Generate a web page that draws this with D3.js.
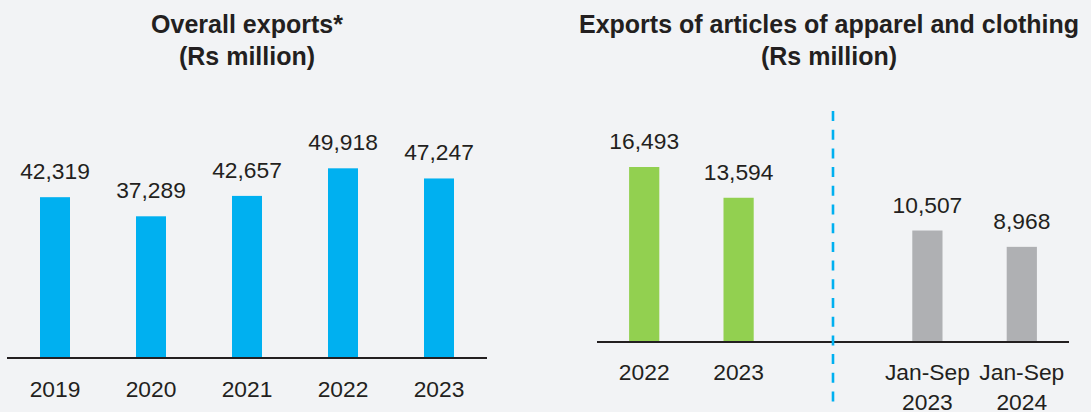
<!DOCTYPE html>
<html>
<head>
<meta charset="utf-8">
<script src="https://cdn.jsdelivr.net/npm/d3@7"></script>
<style>
  html, body { margin: 0; padding: 0; background: #F2F3F5; }
  svg { display: block; }
</style>
</head>
<body>
<svg id="chart" width="1091" height="412"></svg>
<script>
// Overall exports, Rs million
const overallYears = ["2019", "2020", "2021", "2022", "2023"];
const overallValues = [42319, 37289, 42657, 49918, 47247];

// Exports of articles of apparel and clothing, Rs million
const apparelCategories = ["2022", "2023", "gap", "Jan-Sep 2023", "Jan-Sep 2024"];
const apparelLabels = [["2022"], ["2023"], [], ["Jan-Sep", "2023"], ["Jan-Sep", "2024"]];
const apparelValues = [16493, 13594, null, 10507, 8968];
const apparelColors = ["#92D050", "#92D050", null, "#AFB0B3", "#AFB0B3"];

const titleFont = "'Liberation Sans', Arial, sans-serif";
const bodyFont = "'Liberation Sans', Arial, sans-serif";
const labelSize = 22.8;
const fmt = d3.format(",");

const svg = d3.select("#chart");

function drawTitle(lines, cx) {
  const t = svg.append("text")
    .attr("text-anchor", "middle")
    .attr("font-family", titleFont)
    .attr("font-weight", "bold")
    .attr("font-size", 25)
    .attr("fill", "#231F20");
  lines.forEach((line, i) => {
    t.append("tspan").attr("x", cx).attr("y", 33 + i * 32).text(line);
  });
}

// ---------- Left panel ----------
const leftX = d3.scaleBand().domain(overallYears).range([7, 487]).paddingInner(0.6875).paddingOuter(0.34375);
const leftY = d3.scaleLinear().domain([0, 50000]).range([358, 168]);

drawTitle(["Overall exports*", "(Rs million)"], 247);

const leftG = svg.append("g");
leftG.selectAll("rect").data(overallValues).join("rect")
  .attr("x", (d, i) => leftX(overallYears[i]))
  .attr("width", leftX.bandwidth())
  .attr("y", d => leftY(d))
  .attr("height", d => leftY(0) - leftY(d))
  .attr("fill", "#00B0F0");

leftG.selectAll("text.val").data(overallValues).join("text")
  .attr("class", "val")
  .attr("x", (d, i) => leftX(overallYears[i]) + leftX.bandwidth() / 2)
  .attr("y", d => leftY(d) - 18)
  .attr("text-anchor", "middle")
  .attr("font-family", bodyFont)
  .attr("font-size", labelSize)
  .attr("fill", "#231F20")
  .text(d => fmt(d));

const leftAxis = d3.axisBottom(leftX).tickSize(0).tickPadding(0);
const la = svg.append("g").attr("transform", `translate(0,${leftY(0)})`).call(leftAxis);
la.select(".domain").attr("stroke", "#231F20").attr("stroke-width", 1.8).attr("d", "M7,0H487");
la.selectAll(".tick text")
  .attr("y", 39).attr("dy", 0)
  .attr("font-family", bodyFont).attr("font-size", labelSize).attr("fill", "#231F20");

// ---------- Right panel ----------
const rightX = d3.scaleBand().domain(apparelCategories).range([597, 1069]).paddingInner(0.68).paddingOuter(0.34);
const rightY = d3.scaleLinear().domain([0, 16493]).range([342, 167]);

drawTitle(["Exports of articles of apparel and clothing", "(Rs million)"], 829);

const barData = apparelValues.map((v, i) => ({ cat: apparelCategories[i], v, c: apparelColors[i] }))
  .filter(d => d.v !== null);

const rightG = svg.append("g");
rightG.selectAll("rect").data(barData).join("rect")
  .attr("x", d => rightX(d.cat))
  .attr("width", rightX.bandwidth())
  .attr("y", d => rightY(d.v))
  .attr("height", d => rightY(0) - rightY(d.v))
  .attr("fill", d => d.c);

rightG.selectAll("text.val").data(barData).join("text")
  .attr("class", "val")
  .attr("x", d => rightX(d.cat) + rightX.bandwidth() / 2)
  .attr("y", d => rightY(d.v) - 18)
  .attr("text-anchor", "middle")
  .attr("font-family", bodyFont)
  .attr("font-size", labelSize)
  .attr("fill", "#231F20")
  .text(d => fmt(d.v));

const rightAxis = d3.axisBottom(rightX).tickSize(0).tickPadding(0).tickFormat(() => "");
const ra = svg.append("g").attr("transform", `translate(0,${rightY(0)})`).call(rightAxis);
ra.select(".domain").attr("stroke", "#231F20").attr("stroke-width", 1.8).attr("d", "M597,0H1069");
ra.selectAll(".tick text").each(function (d, i) {
  const t = d3.select(this)
    .attr("y", 0).attr("dy", 0)
    .attr("font-family", bodyFont).attr("font-size", labelSize).attr("fill", "#231F20");
  apparelLabels[i].forEach((line, j) => {
    t.append("tspan").attr("x", 0).attr("y", 38 + j * 29.5).text(line);
  });
});

// Dashed separator between full-year and Jan-Sep bars
const sepX = rightX("gap") + rightX.bandwidth() / 2;
svg.append("line")
  .attr("x1", sepX).attr("x2", sepX)
  .attr("y1", 111).attr("y2", 402)
  .attr("stroke", "#00B0F0")
  .attr("stroke-width", 2.6)
  .attr("stroke-dasharray", "10,8.7");
</script>
</body>
</html>
